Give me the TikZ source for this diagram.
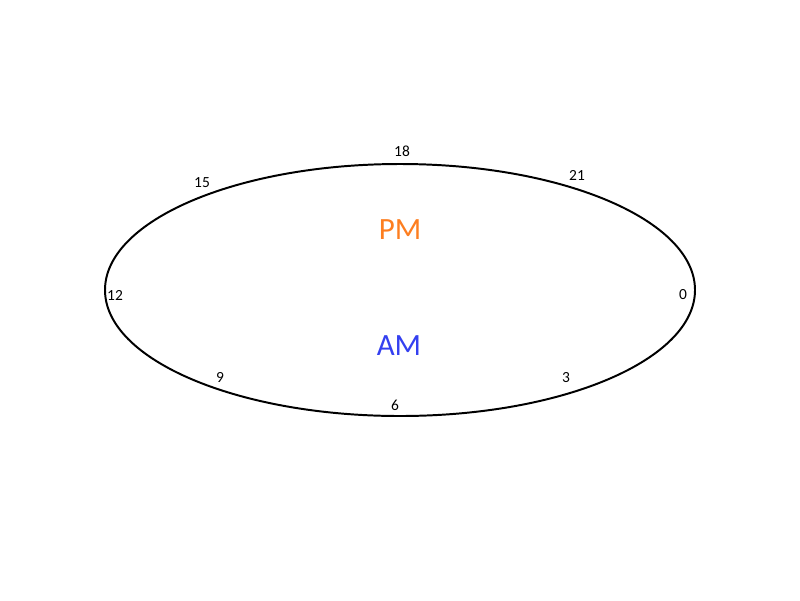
\documentclass[tikz,border=0pt]{standalone}
\usepackage{fontspec}
\setmainfont{Carlito}
\usetikzlibrary{positioning}
\definecolor{pmorange}{RGB}{253,126,32}
\definecolor{amblue}{RGB}{52,64,240}

\begin{document}
\begin{tikzpicture}[x=0.025cm,y=-0.025cm,
  dial/.style={draw=black,line width=1.4pt},
  hour/.style={font=\fontsize{11}{13}\selectfont,inner sep=0pt},
  half/.style={font=\fontsize{22}{26}\selectfont,inner sep=0pt}]

\useasboundingbox (0,0) rectangle (800,600);

% The day as one loop, 0 on the right and counting clockwise.
\draw[dial] (400,290) ellipse [x radius=295,y radius=126];

% Hour marks around the loop.
\foreach \h/\px/\py in {0/683/295,3/566/378,6/395/405,9/220/377,
    12/115/295,15/202/183,18/402/151,21/577/175}
  \node[hour] (h\h) at (\px,\py) {\h};

\node[half,text=pmorange] (pm) at (400,230) {PM};
\node[half,text=amblue] (am) at (399,346) {AM};
\end{tikzpicture}
\end{document}
